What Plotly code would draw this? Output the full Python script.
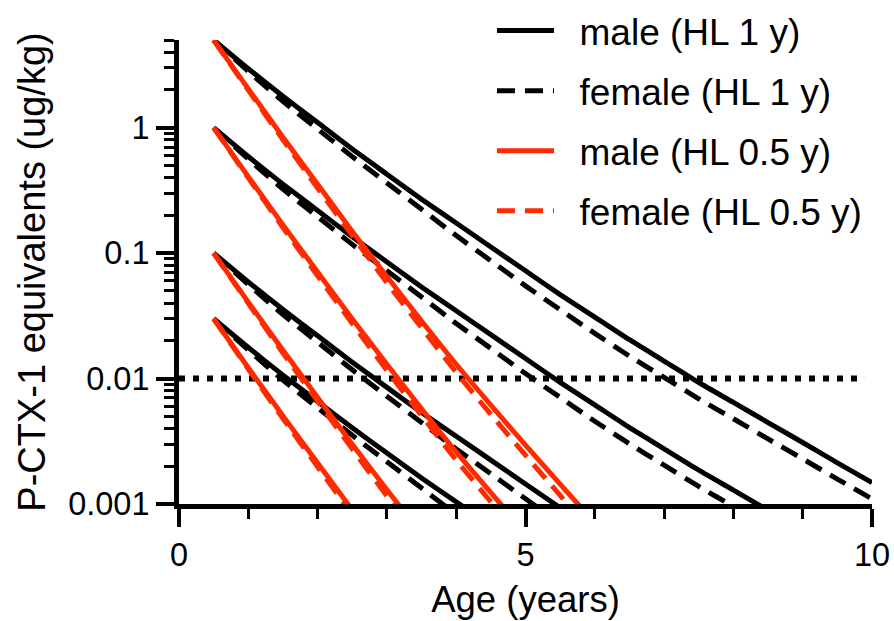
import plotly.graph_objects as go

# Age grid (years), every half year from 0.5
age = [0.5, 1.0, 1.5, 2.0, 2.5, 3.0, 3.5, 4.0, 4.5, 5.0, 5.5, 6.0, 6.5, 7.0, 7.5, 8.0, 8.5, 9.0, 9.5, 10.0]

# male (HL 1 y) curves, four starting levels (5, 1, 0.1, 0.03 ug/kg)
male_hl1_a = [5, 2.95, 1.78, 1.10, 0.675, 0.426, 0.269, 0.174, 0.112, 0.0723, 0.0467, 0.0309, 0.0204, 0.0138, 0.0093, 0.00645, 0.00446, 0.00309, 0.00213, 0.00148]
male_hl1_b = [1, 0.589, 0.355, 0.219, 0.135, 0.0851, 0.0537, 0.0347, 0.0224, 0.01445, 0.00933, 0.00617, 0.00407, 0.00275, 0.00186, 0.00129, 0.000891]
male_hl1_c = [0.1, 0.0589, 0.0355, 0.0219, 0.0135, 0.00851, 0.00537, 0.00347, 0.00224, 0.001445, 0.000933]
male_hl1_d = [0.03, 0.0177, 0.01065, 0.00657, 0.00405, 0.00255, 0.00161, 0.00104, 0.000672]

# female (HL 1 y)
female_hl1_a = [5, 2.81, 1.62, 0.975, 0.588, 0.362, 0.224, 0.138, 0.087, 0.0548, 0.0354, 0.0229, 0.0151, 0.0102, 0.0069, 0.00478, 0.0033, 0.00229, 0.00158, 0.0011]
female_hl1_b = [1, 0.562, 0.324, 0.195, 0.1175, 0.0724, 0.0447, 0.0275, 0.0174, 0.01096, 0.00708, 0.00457, 0.00302, 0.00204, 0.00138, 0.000955, 0.000661]
female_hl1_c = [0.1, 0.0562, 0.0324, 0.0195, 0.01175, 0.00724, 0.00447, 0.00275, 0.00174, 0.0011, 0.000708]
female_hl1_d = [0.03, 0.0169, 0.00972, 0.00585, 0.00353, 0.00217, 0.00134, 0.000825]

# male (HL 0.5 y)
male_hl05_a = [5, 2.04, 0.84, 0.354, 0.149, 0.0652, 0.0288, 0.013, 0.00615, 0.00295, 0.00144, 0.000706]
male_hl05_b = [1, 0.407, 0.168, 0.0708, 0.0299, 0.013, 0.00575, 0.0026, 0.00123, 0.000589]
male_hl05_c = [0.1, 0.0407, 0.0168, 0.00708, 0.00299, 0.0013, 0.000575]
male_hl05_d = [0.03, 0.0122, 0.00504, 0.00212, 0.000897]

# female (HL 0.5 y)
female_hl05_a = [5, 1.99, 0.802, 0.33, 0.138, 0.0581, 0.0254, 0.0112, 0.00518, 0.00245, 0.00117, 0.00056]
female_hl05_b = [1, 0.398, 0.16, 0.0661, 0.0275, 0.0116, 0.00507, 0.00224, 0.00104, 0.00049]
female_hl05_c = [0.1, 0.0398, 0.016, 0.00661, 0.00275, 0.00116, 0.000507]
female_hl05_d = [0.03, 0.0119, 0.0048, 0.00198, 0.000825]

# guideline level
limit_x = [0, 9.9]
limit_y = [0.01, 0.01]

series_names = ["male (HL 1 y)", "female (HL 1 y)", "male (HL 0.5 y)", "female (HL 0.5 y)"]

y_tickvals = [0.001, 0.01, 0.1, 1]
y_ticktext = ["0.001", "0.01", "0.1", "1"]
x_tickvals = [0, 5, 10]

BLACK = "#000000"
RED = "#ff2a00"
DASH = "18px,10px"
FONT = "Liberation Sans, Arial, sans-serif"
PAD = "\u00a0\u00a0"

groups = [
    (series_names[0], [male_hl1_a, male_hl1_b, male_hl1_c, male_hl1_d], BLACK, "solid"),
    (series_names[1], [female_hl1_a, female_hl1_b, female_hl1_c, female_hl1_d], BLACK, DASH),
    (series_names[2], [male_hl05_a, male_hl05_b, male_hl05_c, male_hl05_d], RED, "solid"),
    (series_names[3], [female_hl05_a, female_hl05_b, female_hl05_c, female_hl05_d], RED, DASH),
]

fig = go.Figure()

fig.add_trace(go.Scatter(x=limit_x, y=limit_y, mode="lines",
                         line=dict(color=BLACK, width=6, dash="6px,8px"),
                         showlegend=False, hoverinfo="skip"))

for gi, (name, curves, color, dash) in enumerate(groups):
    for ci, vals in enumerate(curves):
        fig.add_trace(go.Scatter(
            x=age[:len(vals)], y=vals, mode="lines", name=PAD + name,
            legendgroup=name, showlegend=(ci == 0),
            legendrank=gi + 1,
            line=dict(color=color, width=5, dash=dash, shape="spline", smoothing=0.6),
        ))

minor_y = []
for dec in [0.001, 0.01, 0.1]:
    minor_y += [dec * k for k in range(2, 10)]
minor_y += [2, 3, 4, 5]

fig.update_layout(
    width=894, height=621,
    margin=dict(l=179, r=22, t=40, b=117, autoexpand=False),
    paper_bgcolor="white", plot_bgcolor="white",
    font=dict(family=FONT, color="black", size=32.5),
    showlegend=True,
    legend=dict(xref="container", yref="container", x=0.5503, y=1.0,
                xanchor="left", yanchor="top", font=dict(size=37, family=FONT),
                bgcolor="rgba(0,0,0,0)", tracegroupgap=9, itemwidth=57,
                traceorder="grouped"),
    xaxis=dict(range=[0, 10], tickvals=x_tickvals, ticks="outside", ticklen=18,
               tickwidth=4, tickcolor="black", showline=True, linewidth=5,
               linecolor="black", showgrid=False, zeroline=False,
               tickfont=dict(size=32.5),
               minor=dict(tickvals=[1, 2, 3, 4, 6, 7, 8, 9], ticks="outside",
                          ticklen=10, tickwidth=3, tickcolor="black"),
               title=dict(text="Age (years)", font=dict(size=36.5), standoff=16)),
    yaxis=dict(type="log", range=[-3, 0.699], tickvals=y_tickvals,
               ticktext=y_ticktext, ticks="outside", ticklen=18, tickwidth=4,
               tickcolor="black", showline=True, linewidth=5,
               linecolor="black", showgrid=False, zeroline=False,
               tickfont=dict(size=32.5),
               minor=dict(tickvals=minor_y, ticks="outside", ticklen=10,
                          tickwidth=3, tickcolor="black"),
               title=dict(text="P-CTX-1 equivalents (ug/kg)", font=dict(size=38),
                          standoff=12)),
)

fig.write_html(
    "out.html",
    config={"displayModeBar": False},
    post_script="document.body.style.margin='0';document.body.style.overflow='hidden';",
)
